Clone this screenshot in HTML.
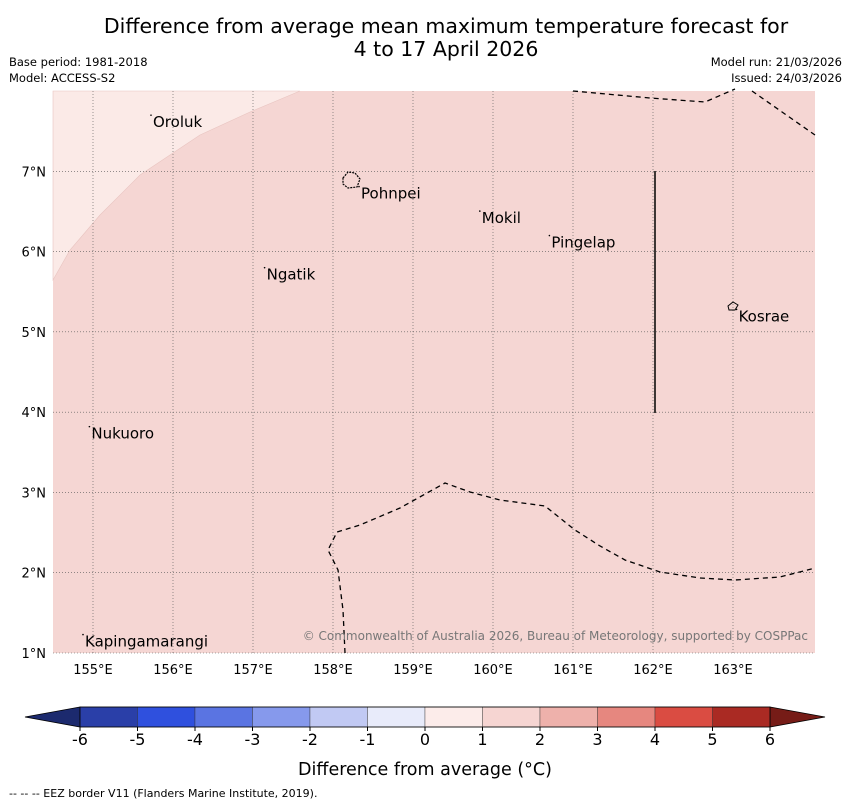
<!DOCTYPE html>
<html><head><meta charset="utf-8"><style>
body{margin:0;background:#fff;font-family:"Liberation Sans","DejaVu Sans",sans-serif}
</style></head><body>
<svg width="850" height="804" xmlns="http://www.w3.org/2000/svg" font-family="DejaVu Sans, Liberation Sans, sans-serif">
<text x="446" y="33" font-size="20.5" text-anchor="middle">Difference from average mean maximum temperature forecast for</text>
<text x="446" y="56" font-size="20.5" text-anchor="middle">4 to 17 April 2026</text>
<text x="9" y="66" font-size="11.5">Base period: 1981-2018</text>
<text x="9" y="82" font-size="11.5">Model: ACCESS-S2</text>
<text x="842" y="66" font-size="11.5" text-anchor="end">Model run: 21/03/2026</text>
<text x="842" y="82" font-size="11.5" text-anchor="end">Issued: 24/03/2026</text>
<g id="map"></g>
<g id="cbar"></g>
<text x="425" y="775" font-size="17.5" text-anchor="middle">Difference from average (°C)</text>
<text x="9" y="797" font-size="11">-- -- -- EEZ border V11 (Flanders Marine Institute, 2019).</text>
</svg>
<script>
const lonTicks=[155,156,157,158,159,160,161,162,163];
const latTicks=[1,2,3,4,5,6,7];
const places=["Oroluk","Pohnpei","Mokil","Pingelap","Ngatik","Kosrae","Nukuoro","Kapingamarangi"];
const placeLon=[155.75,158.35,159.86,160.73,157.17,163.07,154.98,154.9];
const placeLat=[7.55,6.66,6.355,6.05,5.65,5.13,3.67,1.08];
const cbLevels=[-6,-5,-4,-3,-2,-1,0,1,2,3,4,5,6];
const cbColors=["#2a3fa8","#2f50de","#5a74e2","#8699ec","#c1c9f3","#e8ebfa","#fcecea","#f6d5d2","#eeb1ab","#e6877f","#da4c42","#aa2a23"];
const ns="http://www.w3.org/2000/svg";
const X0=53,X1=815,Y0=91,Y1=653,lonMin=154.5,lonMax=164.025,latMin=1.0,latMax=8.0;
const xs=l=>X0+(l-lonMin)/(lonMax-lonMin)*(X1-X0);
const ys=l=>Y1-(l-latMin)/(latMax-latMin)*(Y1-Y0);
function mk(p,t,a){const e=document.createElementNS(ns,t);for(const k in a)e.setAttribute(k,a[k]);p.appendChild(e);return e;}
const map=document.getElementById('map');
let r=mk(map,'rect',{x:X0,y:Y0,width:X1-X0,height:Y1-Y0,fill:'#f5d6d3'});


let lp=mk(map,'path',{d:'M53,91 L300,91 L250,112 L200,135 L140,175 L100,215 L70,250 L53,280 Z',fill:'#fbeae7',stroke:'#e8c4c0','stroke-width':0.6});


lonTicks.forEach(l=>{const x=xs(l);
 let g=mk(map,'line',{x1:x,x2:x,y1:Y0,y2:Y1,stroke:'#555','stroke-width':0.6,'stroke-dasharray':'1,2'});
 
 let t=mk(map,'text',{x:x,y:674,'font-size':13,'text-anchor':'middle'});t.textContent=l+'°E';
 });
latTicks.forEach(l=>{const y=ys(l);
 let g=mk(map,'line',{x1:X0,x2:X1,y1:y,y2:y,stroke:'#555','stroke-width':0.6,'stroke-dasharray':'1,2'});
 
 let t=mk(map,'text',{x:46,y:y+5,'font-size':13,'text-anchor':'end'});t.textContent=l+'°N';
 });
const eez=['M573,91 L650,98 L705,102 L735,89','M752,91 L815,135','M345,653 L343,610 L338,570 L328,550 L337,532 L360,525 L400,508 L445,483 L470,492 L500,500 L545,506 L575,530 L600,546 L625,560 L660,572 L700,578 L735,580 L780,577 L815,568'];
eez.forEach(d=>{let e=mk(map,'path',{d:d,fill:'none',stroke:'#000','stroke-width':1.3,'stroke-dasharray':'5,4'});
 });
let vl=mk(map,'line',{x1:655,x2:655,y1:171,y2:413,stroke:'#000','stroke-width':1.5});

let isl=mk(map,'path',{d:'M343,178 L348,172 L355,173 L360,179 L357,187 L348,188 L343,184 Z',fill:'none',stroke:'#000','stroke-width':1.2,'stroke-dasharray':'2,1'});

let isk=mk(map,'path',{d:'M728,306 L733,302 L738,305 L735,310 L729,310 Z',fill:'none',stroke:'#000','stroke-width':1});

places.forEach((p,i)=>{const x=xs(placeLon[i]),y=ys(placeLat[i]);
 let d=mk(map,'circle',{cx:x-2,cy:y-12,r:0.8,fill:'#000'});
 
 let t=mk(map,'text',{x:x,y:y,'font-size':15});t.textContent=p;
 });
let cp=mk(map,'text',{x:808,y:640,'font-size':12,'text-anchor':'end',fill:'#777'});
cp.textContent='© Commonwealth of Australia 2026, Bureau of Meteorology, supported by COSPPac';

const cb=document.getElementById('cbar');
const C0=80,C1=770,CY=707,CH=20;
const cx=v=>C0+(v-cbLevels[0])/(cbLevels[cbLevels.length-1]-cbLevels[0])*(C1-C0);
let lt=mk(cb,'path',{d:`M${C0},${CY} L25,${CY+CH/2} L${C0},${CY+CH} Z`,fill:'#1c2a6e',stroke:'#000','stroke-width':0.8});

let rt=mk(cb,'path',{d:`M${C1},${CY} L825,${CY+CH/2} L${C1},${CY+CH} Z`,fill:'#761c17',stroke:'#000','stroke-width':0.8});

cbColors.forEach((c,i)=>{const a=cx(cbLevels[i]),b=cx(cbLevels[i+1]);
 let s=mk(cb,'rect',{x:a,y:CY,width:b-a,height:CH,fill:c,stroke:'#333','stroke-width':0.4});
 });
mk(cb,'rect',{x:C0,y:CY,width:C1-C0,height:CH,fill:'none',stroke:'#000','stroke-width':0.8});
cbLevels.forEach(v=>{const x=cx(v);
 mk(cb,'line',{x1:x,x2:x,y1:CY+CH,y2:CY+CH+4,stroke:'#000'});
 let t=mk(cb,'text',{x:x,y:745,'font-size':16,'text-anchor':'middle'});t.textContent=v;
 });
</script>
</body></html>
